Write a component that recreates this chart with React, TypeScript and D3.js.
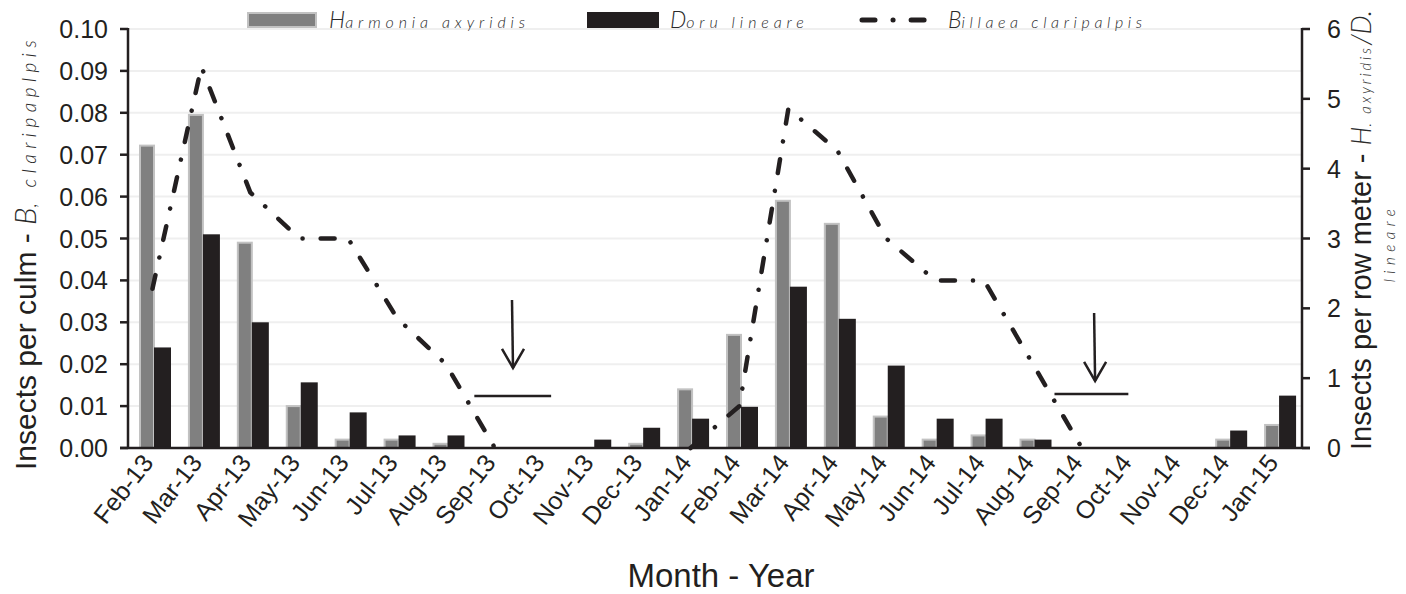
import * as d3 from "d3";

const months = [
  "Feb-13", "Mar-13", "Apr-13", "May-13", "Jun-13", "Jul-13", "Aug-13", "Sep-13",
  "Oct-13", "Nov-13", "Dec-13", "Jan-14", "Feb-14", "Mar-14", "Apr-14", "May-14",
  "Jun-14", "Jul-14", "Aug-14", "Sep-14", "Oct-14", "Nov-14", "Dec-14", "Jan-15",
];

// insects per row meter (right axis)
const harmonia = [
  4.33, 4.77, 2.94, 0.6, 0.12, 0.12, 0.06, 0, 0, 0, 0.06, 0.84,
  1.62, 3.54, 3.21, 0.45, 0.12, 0.18, 0.12, 0, 0, 0, 0.12, 0.33,
];
const doru = [
  1.44, 3.06, 1.8, 0.94, 0.51, 0.18, 0.18, 0, 0, 0.12, 0.29, 0.42,
  0.59, 2.31, 1.85, 1.18, 0.42, 0.42, 0.12, 0, 0, 0, 0.25, 0.75,
];

// insects per culm (left axis), null = not sampled
const billaea: (number | null)[] = [
  0.038, 0.091, 0.061, 0.05, 0.05, 0.031, 0.02, 0, null, null, null, 0,
  0.01, 0.081, 0.071, 0.05, 0.04, 0.04, 0.02, 0, null, null, null, null,
];

const leftTicks = [0, 0.01, 0.02, 0.03, 0.04, 0.05, 0.06, 0.07, 0.08, 0.09, 0.1];
const rightTicks = [0, 1, 2, 3, 4, 5, 6];

// arrow annotations: month index position, left-axis values
const arrows = [
  { at: 7.35, top: 0.0353, tip: 0.0191, from: 6.58, to: 8.15, level: 0.0124 },
  { at: 19.25, top: 0.0322, tip: 0.016, from: 18.44, to: 19.95, level: 0.0129 },
];

const W = 1406;
const H = 594;
const left = 128;
const right = 1302;
const top = 29;
const bottom = 448;

const font = "'Liberation Sans', Arial, Helvetica, sans-serif";
const thin = "Lato, 'DejaVu Sans', sans-serif";
const ink = "#231f20";
const soft = "#2a2a2a";

export default function App() {
  const x = d3.scaleBand<string>().domain(months).range([left, right]).padding(0);
  const xs = d3.scaleBand<string>().domain(["h", "d"]).range([11, 41]);
  const xi = d3.scaleLinear().domain([-0.5, months.length - 0.5]).range([left, right]);
  const yL = d3.scaleLinear().domain([0, 0.1]).range([bottom, top]);
  const yR = d3.scaleLinear().domain([0, 6]).range([bottom, top]);

  const line = d3
    .line<number | null>()
    .defined((d) => d !== null)
    .x((_, i) => x(months[i])! + x.bandwidth() / 2)
    .y((d) => yL(d as number));

  const it = { fontFamily: thin, fontStyle: "italic", fontWeight: 300, fill: soft } as const;

  return (
    <svg width={W} height={H} style={{ position: "absolute", left: 0, top: 0, background: "#fff" }}>
      {/* gridlines */}
      {leftTicks.slice(1).map((t) => (
        <line key={t} x1={left} x2={right} y1={yL(t)} y2={yL(t)} stroke="#efefef" strokeWidth={2} />
      ))}

      {/* bars */}
      {months.map((m, i) => (
        <g key={m} transform={`translate(${x(m)},0)`}>
          <rect
            x={xs("h")! + 1}
            y={yR(harmonia[i])}
            width={xs.bandwidth() - 1}
            height={bottom - yR(harmonia[i])}
            fill="#808080"
            stroke="#c2c2c2"
            strokeWidth={2}
          />
          <rect
            x={xs("d")}
            y={yR(doru[i])}
            width={xs.bandwidth() + 2}
            height={bottom - yR(doru[i])}
            fill={ink}
          />
        </g>
      ))}

      {/* axes */}
      <g stroke={ink} strokeWidth={2.5}>
        <line x1={left} x2={left} y1={top - 1} y2={bottom} />
        <line x1={right} x2={right} y1={top - 1} y2={bottom} />
        <line x1={left - 8} x2={right + 8} y1={bottom} y2={bottom} />
        {leftTicks.map((t) => (
          <line key={t} x1={left - 8} x2={left} y1={yL(t)} y2={yL(t)} />
        ))}
        {rightTicks.map((t) => (
          <line key={t} x1={right} x2={right + 8} y1={yR(t)} y2={yR(t)} />
        ))}
      </g>

      {leftTicks.map((t) => (
        <text key={t} x={108} y={yL(t) + 9} textAnchor="end" fontFamily={font} fontSize={25} fill={ink}>
          {d3.format(".2f")(t)}
        </text>
      ))}
      {rightTicks.map((t) => (
        <text key={t} x={1327} y={yR(t) + 9} fontFamily={font} fontSize={25} fill={ink}>
          {t}
        </text>
      ))}

      {months.map((m) => (
        <text
          key={m}
          transform={`translate(${x(m)! + x.bandwidth() / 2 + 2},${bottom + 15}) rotate(-52)`}
          textAnchor="end"
          fontFamily={font}
          fontSize={25}
          fill={ink}
        >
          {m}
        </text>
      ))}

      {/* B. claripalpis line */}
      <path
        d={line(billaea) ?? ""}
        fill="none"
        stroke={ink}
        strokeWidth={4.5}
        strokeLinecap="round"
        strokeDasharray="14 18 0.1 18"
      />

      {/* arrows */}
      {arrows.map((a, i) => (
        <g key={i} stroke={ink} strokeWidth={2.5} fill="none">
          <line x1={xi(a.at)} x2={xi(a.at) + 1} y1={yL(a.top)} y2={yL(a.tip)} />
          <path
            d={`M${xi(a.at) - 10},${yL(a.tip) - 19}L${xi(a.at) + 1},${yL(a.tip)}L${xi(a.at) + 12},${yL(a.tip) - 19}`}
          />
          <line x1={xi(a.from)} x2={xi(a.to)} y1={yL(a.level)} y2={yL(a.level)} />
        </g>
      ))}

      {/* axis titles */}
      <text x={721} y={587} textAnchor="middle" fontFamily={font} fontSize={33} fill={ink}>
        Month - Year
      </text>
      <text transform={`translate(36,470) rotate(-90)`} fontFamily={font} fontSize={30} fill={ink}>
        Insects per culm -{" "}
        <tspan {...it} fontSize={30}>
          B
        </tspan>
        <tspan {...it} fontSize={19} letterSpacing={5.5}>
          , claripaplpis
        </tspan>
      </text>
      <text transform={`translate(1371,450) rotate(-90)`} fontFamily={font} fontSize={29} fill={ink}>
        Insects per row meter -{" "}
        <tspan {...it} fontSize={27}>
          H
        </tspan>
        <tspan {...it} fontSize={15} letterSpacing={2.8}>
          . axyridis
        </tspan>
        <tspan {...it} fontSize={27}>
          /D.
        </tspan>
      </text>
      <text transform={`translate(1395,243) rotate(-90)`} textAnchor="middle" {...it} fontSize={15} letterSpacing={5.5}>
        lineare
      </text>

      {/* legend */}
      <g>
        <rect x={248} y={13} width={68} height={14} fill="#808080" stroke="#c2c2c2" strokeWidth={2} />
        <text x={329} y={28} {...it}>
          <tspan fontSize={23}>H</tspan>
          <tspan fontSize={16} letterSpacing={4.9}>armonia axyridis</tspan>
        </text>
        <rect x={587} y={12} width={72} height={16} fill={ink} />
        <text x={670} y={28} {...it}>
          <tspan fontSize={23}>D</tspan>
          <tspan fontSize={16} letterSpacing={4.9}>oru lineare</tspan>
        </text>
        <line
          x1={862}
          x2={926}
          y1={20}
          y2={20}
          stroke={ink}
          strokeWidth={5}
          strokeLinecap="round"
          strokeDasharray="13 18 0.1 18"
        />
        <text x={948} y={28} {...it}>
          <tspan fontSize={23}>B</tspan>
          <tspan fontSize={16} letterSpacing={4.6}>illaea claripalpis</tspan>
        </text>
      </g>
    </svg>
  );
}
